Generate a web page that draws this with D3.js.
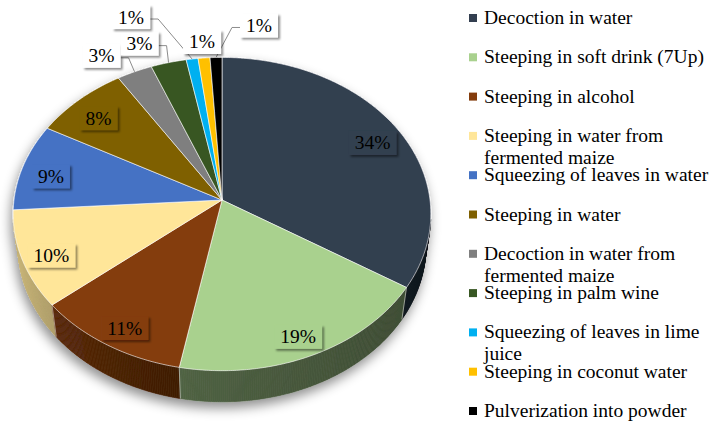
<!DOCTYPE html>
<html>
<head>
<meta charset="utf-8">
<script src="https://cdn.jsdelivr.net/npm/d3@7"></script>
<style>
  body { margin: 0; background: #fff; }
  svg { display: block; }
</style>
</head>
<body>
<svg id="chart"></svg>
<script>
// Data (percent of preparation methods)
var methods = [
    "Decoction in water",
    "Steeping in soft drink (7Up)",
    "Steeping in alcohol",
    "Steeping in water from fermented maize",
    "Squeezing of leaves in water",
    "Steeping in water",
    "Decoction in water from fermented maize",
    "Steeping in palm wine",
    "Squeezing of leaves in lime juice",
    "Steeping in coconut water",
    "Pulverization into powder"
];
var shares = [34, 19, 11, 10, 9, 8, 3, 3, 1, 1, 1];
var colors = ["#333F50", "#A9D18E", "#843C0C", "#FFE699", "#4472C4", "#7F6000",
              "#7F7F7F", "#385723", "#00B0F0", "#FFC000", "#000000"];

// Hand-placed outside labels (screen offset from rim point), like the original
var outsideLabels = {
    "Decoction in water from fermented maize": [-33, -16],
    "Steeping in palm wine": [-29, -19],
    "Squeezing of leaves in lime juice": [-61, -42],
    "Steeping in coconut water": [-2, -16],
    "Pulverization into powder": [43, -32]
};

var dimensions = { width: 709, height: 422 };
var font = "'Liberation Serif', 'Times New Roman', serif";

var svg = d3.select("#chart")
    .attr("width", dimensions.width)
    .attr("height", dimensions.height);

var defs = svg.append("defs");
var shadow = defs.append("filter").attr("id", "pieShadow")
    .attr("x", "-20%").attr("y", "-20%").attr("width", "140%").attr("height", "140%");
shadow.append("feDropShadow")
    .attr("dx", -2).attr("dy", 6).attr("stdDeviation", 6)
    .attr("flood-color", "#000").attr("flood-opacity", 0.45);
var boxShadow = defs.append("filter").attr("id", "boxShadow")
    .attr("x", "-30%").attr("y", "-30%").attr("width", "160%").attr("height", "160%");
boxShadow.append("feDropShadow")
    .attr("dx", 2).attr("dy", 2).attr("stdDeviation", 1.2)
    .attr("flood-color", "#000").attr("flood-opacity", 0.45);

// Perspective projection of a tilted pie (unit radius)
var view = { cx: 222, cy: 200, scale: 208, sinA: 0.747, cosA: 0.665, k: 0.0897, depth: 0.24 };
var D = view.cosA / view.k;
var F = view.scale * D;

function project(theta, r, y) {
    var X = r * Math.sin(theta), Z = -r * Math.cos(theta);
    var yc = y * view.cosA - Z * view.sinA;
    var zc = D - (y * view.sinA + Z * view.cosA);
    return [view.cx + F * X / zc, view.cy - F * yc / zc];
}

// lighting of the side wall: lighter on the left, darker on the right
function sideShade(color, theta) {
    var s = Math.sin(theta);
    var f = s < 0 ? 0.45 + 0.35 * Math.pow(-s, 1.5) : 0.45 - 0.1 * s;
    var c = d3.rgb(color);
    return d3.rgb(c.r * f, c.g * f, c.b * f).formatHex();
}

var pie = d3.pie().sort(null).value(d => d.share);
var data = methods.map((m, i) => ({ name: m, share: shares[i], color: colors[i] }));
var arcs = pie(data);

var pieGroup = svg.append("g").attr("filter", "url(#pieShadow)");

// Side wall (only the front part is visible)
var step = Math.PI / 360;
var sideSegs = [];
arcs.forEach(function(a) {
    for (var t = a.startAngle; t < a.endAngle - 1e-9; t += step) {
        var t2 = Math.min(t + step, a.endAngle);
        var mid = (t + t2) / 2;
        if (-Math.cos(mid) < 0.12) continue;
        sideSegs.push({ t1: t, t2: t2, mid: mid, color: a.data.color });
    }
});
sideSegs.sort((p, q) => (-Math.cos(p.mid)) - (-Math.cos(q.mid)));

pieGroup.selectAll("path.side")
    .data(sideSegs)
    .enter()
    .append("path")
    .attr("class", "side")
    .attr("d", function(s) {
        var pts = [project(s.t1, 1, 0), project(s.t2, 1, 0),
                   project(s.t2, 1, -view.depth), project(s.t1, 1, -view.depth)];
        return "M" + pts.map(p => p.join(",")).join("L") + "Z";
    })
    .attr("fill", s => sideShade(s.color, s.mid))
    .attr("stroke", s => sideShade(s.color, s.mid))
    .attr("stroke-width", 0.6);

// Light seams on the side where slices meet
arcs.forEach(function(a) {
    var t = a.startAngle;
    if (-Math.cos(t) > 0.2) {
        var p1 = project(t, 1, 0), p2 = project(t, 1, -view.depth);
        pieGroup.append("line")
            .attr("x1", p1[0]).attr("y1", p1[1])
            .attr("x2", p2[0]).attr("y2", p2[1])
            .attr("stroke", "rgba(255,255,255,0.6)")
            .attr("stroke-width", 0.8);
    }
});

// Top faces
pieGroup.selectAll("path.top")
    .data(arcs)
    .enter()
    .append("path")
    .attr("class", "top")
    .attr("d", function(a) {
        var pts = [project(0, 0, 0)];
        var n = Math.max(2, Math.ceil((a.endAngle - a.startAngle) / step));
        for (var i = 0; i <= n; i++) {
            pts.push(project(a.startAngle + (a.endAngle - a.startAngle) * i / n, 1, 0));
        }
        return "M" + pts.map(p => p.join(",")).join("L") + "Z";
    })
    .attr("fill", a => a.data.color)
    .attr("stroke", "rgba(255,255,255,0.75)")
    .attr("stroke-width", 0.8)
    .attr("stroke-linejoin", "round");

// Data labels
var labelGroup = svg.append("g");
arcs.forEach(function(a) {
    var mid = (a.startAngle + a.endAngle) / 2;
    var text = a.data.share + "%";
    var off = outsideLabels[a.data.name];
    var rim = project(mid, 1, 0);
    var pos = off ? [rim[0] + off[0], rim[1] + off[1]] : project(mid, 0.86, -0.036);

    var g = labelGroup.append("g");
    var box = g.append("rect");
    var label = g.append("text")
        .attr("x", pos[0])
        .attr("y", pos[1] + 6.5)
        .attr("text-anchor", "middle")
        .style("font-family", font)
        .style("font-size", "19.5px")
        .attr("fill", "#000")
        .text(text);
    var w = label.node().getComputedTextLength() + 12;
    var h = 24;
    box.attr("x", pos[0] - w / 2)
        .attr("y", pos[1] - h / 2)
        .attr("width", w)
        .attr("height", h)
        .attr("fill", off ? "#fff" : a.data.color)
        .attr("filter", "url(#boxShadow)");

    // Leader line for labels moved away from their slice
    if (off && Math.abs(off[0]) > w / 2) {
        var side = off[0] < 0 ? 1 : -1;
        var sx = pos[0] + side * w / 2, sy = pos[1] + 2;
        labelGroup.insert("polyline", ":first-child")
            .attr("points", [[sx, sy], [sx + side * 8, sy], rim].map(p => p.join(",")).join(" "))
            .attr("fill", "none")
            .attr("stroke", "#8c8c8c")
            .attr("stroke-width", 1);
    }
});

// Legend
var legend = svg.append("g");
var maxWidth = 230;
methods.forEach(function(m, i) {
    var y = 24 + i * 39.3;
    legend.append("rect")
        .attr("x", 469)
        .attr("y", y - 10)
        .attr("width", 8)
        .attr("height", 8)
        .attr("fill", colors[i]);
    var t = legend.append("text")
        .attr("x", 484)
        .attr("y", y)
        .style("font-family", font)
        .style("font-size", "19.5px")
        .attr("fill", "#000");
    // simple word wrap
    var words = m.split(" "), line = [];
    var tspan = t.append("tspan").attr("x", 484).attr("dy", 0);
    words.forEach(function(word) {
        line.push(word);
        tspan.text(line.join(" "));
        if (tspan.node().getComputedTextLength() > maxWidth && line.length > 1) {
            line.pop();
            tspan.text(line.join(" "));
            line = [word];
            tspan = t.append("tspan").attr("x", 484).attr("dy", 22).text(word);
        }
    });
});
</script>
</body>
</html>
